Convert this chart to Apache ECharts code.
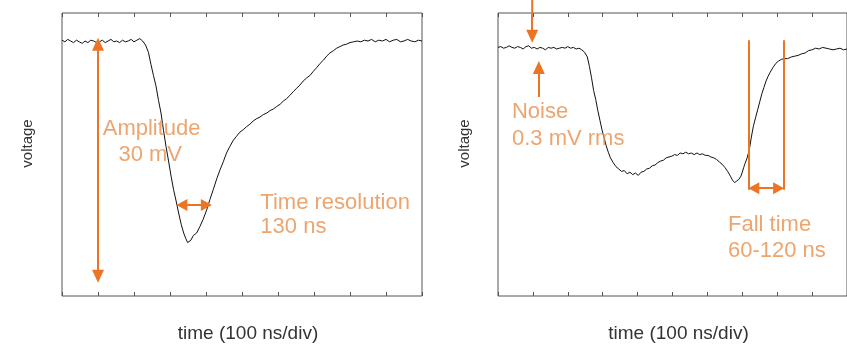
<!DOCTYPE html>
<html>
<head>
<meta charset="utf-8">
<script src="https://cdn.jsdelivr.net/npm/echarts@6/dist/echarts.min.js"></script>
<style>
  html, body { margin: 0; padding: 0; background: #fff; }
  #chart { width: 847px; height: 349px; }
</style>
</head>
<body>
<div id="chart"></div>
<script>
// time in ns (100 ns/div), voltage in mV (baseline of left pulse = 0)
const leftTime = [0, 8, 16, 24, 32, 40, 48, 56, 64, 72, 80, 88, 96, 104, 112, 120, 128, 136, 144, 152, 160, 168, 176, 184, 192, 200, 208, 216, 224,
  232, 240, 247, 254, 261, 268, 275, 282, 289, 296, 303, 310, 317, 324, 331, 338, 344, 349, 353, 358, 365, 374, 383, 392, 402, 411, 420,
  430, 439, 448, 457, 466, 476, 485, 494, 503, 513, 522, 531, 541, 550, 559, 569, 578, 587, 596, 606, 615, 624, 633, 643, 652, 661, 670,
  680, 689, 698, 708, 717, 726, 735, 744, 754, 763, 772, 781, 790, 800, 810, 820, 830, 840, 850, 860, 870, 880, 890, 900, 910, 920, 930,
  940, 950, 960, 970, 980, 990, 1000];
const leftVolt = [0.1, -0.1, 0.2, 0.0, -0.2, 0.1, -0.1, -0.3, 0.0, -0.2, 0.1, 0.0, -0.2, -0.1, 0.1, -0.2, 0.0, 0.2, -0.1, 0.0, -0.2, 0.1, -0.1, 0.0, 0.2, -0.1, 0.1, 0.3, 0.0,
  -0.5, -1.4, -2.9, -4.3, -5.6, -7.4, -9.0, -11.2, -13.2, -15.0, -16.9, -18.6, -20.0, -21.5, -22.9, -24.0, -24.7, -25.2, -25.0, -24.9, -24.3,
  -24.0, -23.2, -22.3, -21.1, -19.8, -18.6, -17.2, -16.1, -15.1, -14.0, -13.2, -12.4, -11.9, -11.4, -11.1, -10.7, -10.4, -10.0, -9.7, -9.5,
  -9.2, -9.0, -8.7, -8.5, -8.2, -7.9, -7.5, -7.2, -6.8, -6.3, -5.9, -5.5, -5.0, -4.6, -4.3, -3.8, -3.3, -2.8, -2.4, -1.9, -1.5, -1.2, -0.9,
  -0.7, -0.5, -0.4, -0.2, -0.1, 0.0, -0.1, 0.1, 0.0, 0.2, -0.1, 0.1, 0.0, 0.2, -0.1, 0.1, 0.2, -0.1, 0.0, 0.2, 0.0, -0.1, 0.1, 0.0];

const rightTime = [0, 8, 16, 24, 32, 40, 48, 56, 64, 72, 80, 88, 96, 104, 112, 120, 128, 136, 144, 152, 160, 168, 176, 184, 192, 200, 208, 216, 224, 232, 240,
  248, 256, 262, 268, 274, 280, 286, 292, 298, 304, 310, 316, 322, 330, 338, 346, 354, 362, 370, 378, 386, 394, 402, 410, 418, 426, 434, 442,
  450, 458, 466, 474, 482, 490, 498, 506, 514, 522, 530, 538, 546, 554, 562, 570, 578, 586, 594, 602, 610, 618, 626, 634, 642, 650, 658, 666,
  672, 678, 684, 690, 696, 700, 704, 708, 714, 720, 726, 732, 738, 744, 750, 756, 762, 768, 774, 780, 788, 796, 804, 812, 820, 830, 840, 850,
  860, 870, 880, 890, 900, 910, 920, 930, 940, 950, 960, 970, 980, 990, 1000];
const rightVolt = [-0.8, -0.7, -0.9, -0.8, -0.6, -0.8, -0.9, -0.7, -0.8, -1.0, -0.7, -0.6, -0.9, -0.8, -1.0, -0.8, -0.9, -1.1, -0.8, -0.9, -0.8, -1.0, -0.9, -0.8, -0.9, -0.7, -0.9, -0.8, -1.0, -0.9, -1.1,
  -1.4, -2.0, -3.2, -4.6, -6.2, -7.3, -8.7, -9.9, -11.1, -12.1, -13.1, -13.9, -14.6, -15.2, -15.7, -16.0, -16.3, -16.2, -16.6, -16.4, -16.7, -16.5, -16.8, -16.4, -16.3, -16.0, -15.9, -15.6,
  -15.5, -15.2, -15.0, -14.9, -14.6, -14.5, -14.4, -14.2, -14.3, -14.0, -14.1, -13.9, -14.1, -14.0, -14.2, -14.0, -14.2, -14.1, -14.3, -14.3, -14.5, -14.6, -14.8, -15.1, -15.4, -15.8, -16.3, -16.9,
  -17.4, -17.7, -17.5, -17.3, -16.9, -16.4, -15.8, -15.3, -14.6, -13.6, -12.0, -10.6, -9.6, -8.6, -7.6, -6.6, -5.8, -5.0, -4.4, -3.9, -3.3, -2.8, -2.5, -2.3, -2.2, -2.2, -2.0, -1.9,
  -1.8, -1.6, -1.5, -1.2, -1.1, -0.9, -1.0, -0.8, -0.9, -1.0, -1.1, -1.0, -0.9, -1.1, -1.0];

// annotations, in the same data units (arrow ends are the arrow-head centres)
const amplitudeArrow = [[100, -0.4], [100, -29.4]];
const resolutionArrow = [[333, -20.5], [401, -20.5]];
const noiseDownStem = [[98, 5.2], [98, 3.4]];
const noiseDownArrow = [[98, 3.4], [98, 0.6]];
const noiseUpArrow = [[117, -7.0], [117, -3.3]];
const fallLeftLine = [[718, 0.1], [718, -18.6]];
const fallRightLine = [[819, 0.1], [819, -18.6]];
const fallArrow = [[733, -18.4], [804, -18.4]];

const leftNotes = [
  { text: "Amplitude", at: [249, -11.0], align: "center" },
  { text: "30 mV", at: [245, -14.2], align: "center" },
  { text: "Time resolution", at: [551, -20.3], align: "left" },
  { text: "130 ns", at: [551, -23.2], align: "left" },
];
const rightNotes = [
  { text: "Noise", at: [40, -8.9], align: "left" },
  { text: "0.3 mV rms", at: [40, -12.2], align: "left" },
  { text: "Fall time", at: [659, -23.0], align: "left" },
  { text: "60-120 ns", at: [659, -26.2], align: "left" },
];

const timeTicks = { min: 0, max: 1000, interval: 100 };
const voltRange = { min: -31.875, max: 3.5 };

const ORANGE = "#ec7424";
const TEXT_ORANGE = "#e98e4c";
const FONT = "'Liberation Sans', Arial, sans-serif";

const chart = echarts.init(document.getElementById("chart"), null, { renderer: "canvas" });

function zip(xs, ys) {
  return xs.map((x, i) => [x, ys[i]]);
}

function arrowLine(seg, startSym, endSym, size) {
  const s = size || [12, 13];
  return [
    { coord: seg[0], symbol: startSym, symbolSize: s },
    { coord: seg[1], symbol: endSym, symbolSize: s },
  ];
}

function timeAxis(gridIndex, position) {
  const bottom = position === "bottom";
  return {
    type: "value",
    gridIndex,
    position,
    ...timeTicks,
    name: bottom ? "time (100 ns/div)" : "",
    nameLocation: "middle",
    nameGap: 28,
    nameTextStyle: { fontFamily: FONT, fontSize: 19, color: "#333", padding: [0, 0, 0, 12] },
    axisLine: { show: false, onZero: false },
    axisTick: { show: true, inside: true, length: 4, lineStyle: { color: "#555" } },
    axisLabel: { show: false },
    splitLine: { show: false },
  };
}

function voltAxis(gridIndex, gap) {
  return {
    type: "value",
    gridIndex,
    ...voltRange,
    name: "voltage",
    nameLocation: "middle",
    nameRotate: 90,
    nameGap: gap,
    nameTextStyle: { fontFamily: FONT, fontSize: 15, color: "#333", padding: [0, 0, 0, 22] },
    axisLine: { show: false, onZero: false },
    axisTick: { show: false },
    axisLabel: { show: false },
    splitLine: { show: false },
  };
}

function noteSeries(notes, xi, yi) {
  return {
    type: "scatter",
    xAxisIndex: xi,
    yAxisIndex: yi,
    symbolSize: 0,
    silent: true,
    data: notes.map(n => ({
      value: n.at,
      name: n.text,
      label: { position: n.align === "center" ? "inside" : "right", distance: 0 },
    })),
    label: {
      show: true,
      formatter: "{b}",
      color: TEXT_ORANGE,
      fontFamily: FONT,
      fontSize: 22,
    },
    z: 3,
  };
}

const markStyle = {
  silent: true,
  animation: false,
  label: { show: false },
  lineStyle: { color: ORANGE, width: 2, type: "solid" },
  itemStyle: { color: ORANGE },
  emphasis: { disabled: true },
};

const option = {
  animation: false,
  backgroundColor: "#fff",
  grid: [
    { left: 62, top: 13, width: 360, height: 283, show: true, borderColor: "#555", borderWidth: 1, backgroundColor: "transparent" },
    { left: 498, top: 13, width: 360, height: 283, show: true, borderColor: "#555", borderWidth: 1, backgroundColor: "transparent" },
  ],
  xAxis: [timeAxis(0, "bottom"), timeAxis(0, "top"), timeAxis(1, "bottom"), timeAxis(1, "top")],
  yAxis: [voltAxis(0, 27), voltAxis(1, 26)],
  series: [
    {
      type: "line",
      xAxisIndex: 0,
      yAxisIndex: 0,
      data: zip(leftTime, leftVolt),
      showSymbol: false,
      lineStyle: { color: "#111", width: 1 },
      z: 2,
      markLine: {
        ...markStyle,
        data: [
          arrowLine(amplitudeArrow, "triangle", "triangle"),
          arrowLine(resolutionArrow, "triangle", "triangle", [12, 11]),
        ],
      },
    },
    {
      type: "line",
      xAxisIndex: 2,
      yAxisIndex: 1,
      data: zip(rightTime, rightVolt),
      showSymbol: false,
      lineStyle: { color: "#111", width: 1 },
      z: 2,
      markLine: {
        ...markStyle,
        data: [
          arrowLine(noiseDownArrow, "none", "triangle"),
          arrowLine(noiseUpArrow, "none", "triangle"),
          arrowLine(fallLeftLine, "none", "none"),
          arrowLine(fallRightLine, "none", "none"),
          arrowLine(fallArrow, "triangle", "triangle", [12, 11]),
        ],
      },
    },
    {
      // stem of the noise arrow that starts above the frame
      type: "line",
      xAxisIndex: 2,
      yAxisIndex: 1,
      data: noiseDownStem,
      clip: false,
      showSymbol: false,
      silent: true,
      lineStyle: { color: ORANGE, width: 2 },
      z: 3,
    },
    noteSeries(leftNotes, 0, 0),
    noteSeries(rightNotes, 2, 1),
  ],
};

chart.setOption(option);
</script>
</body>
</html>
